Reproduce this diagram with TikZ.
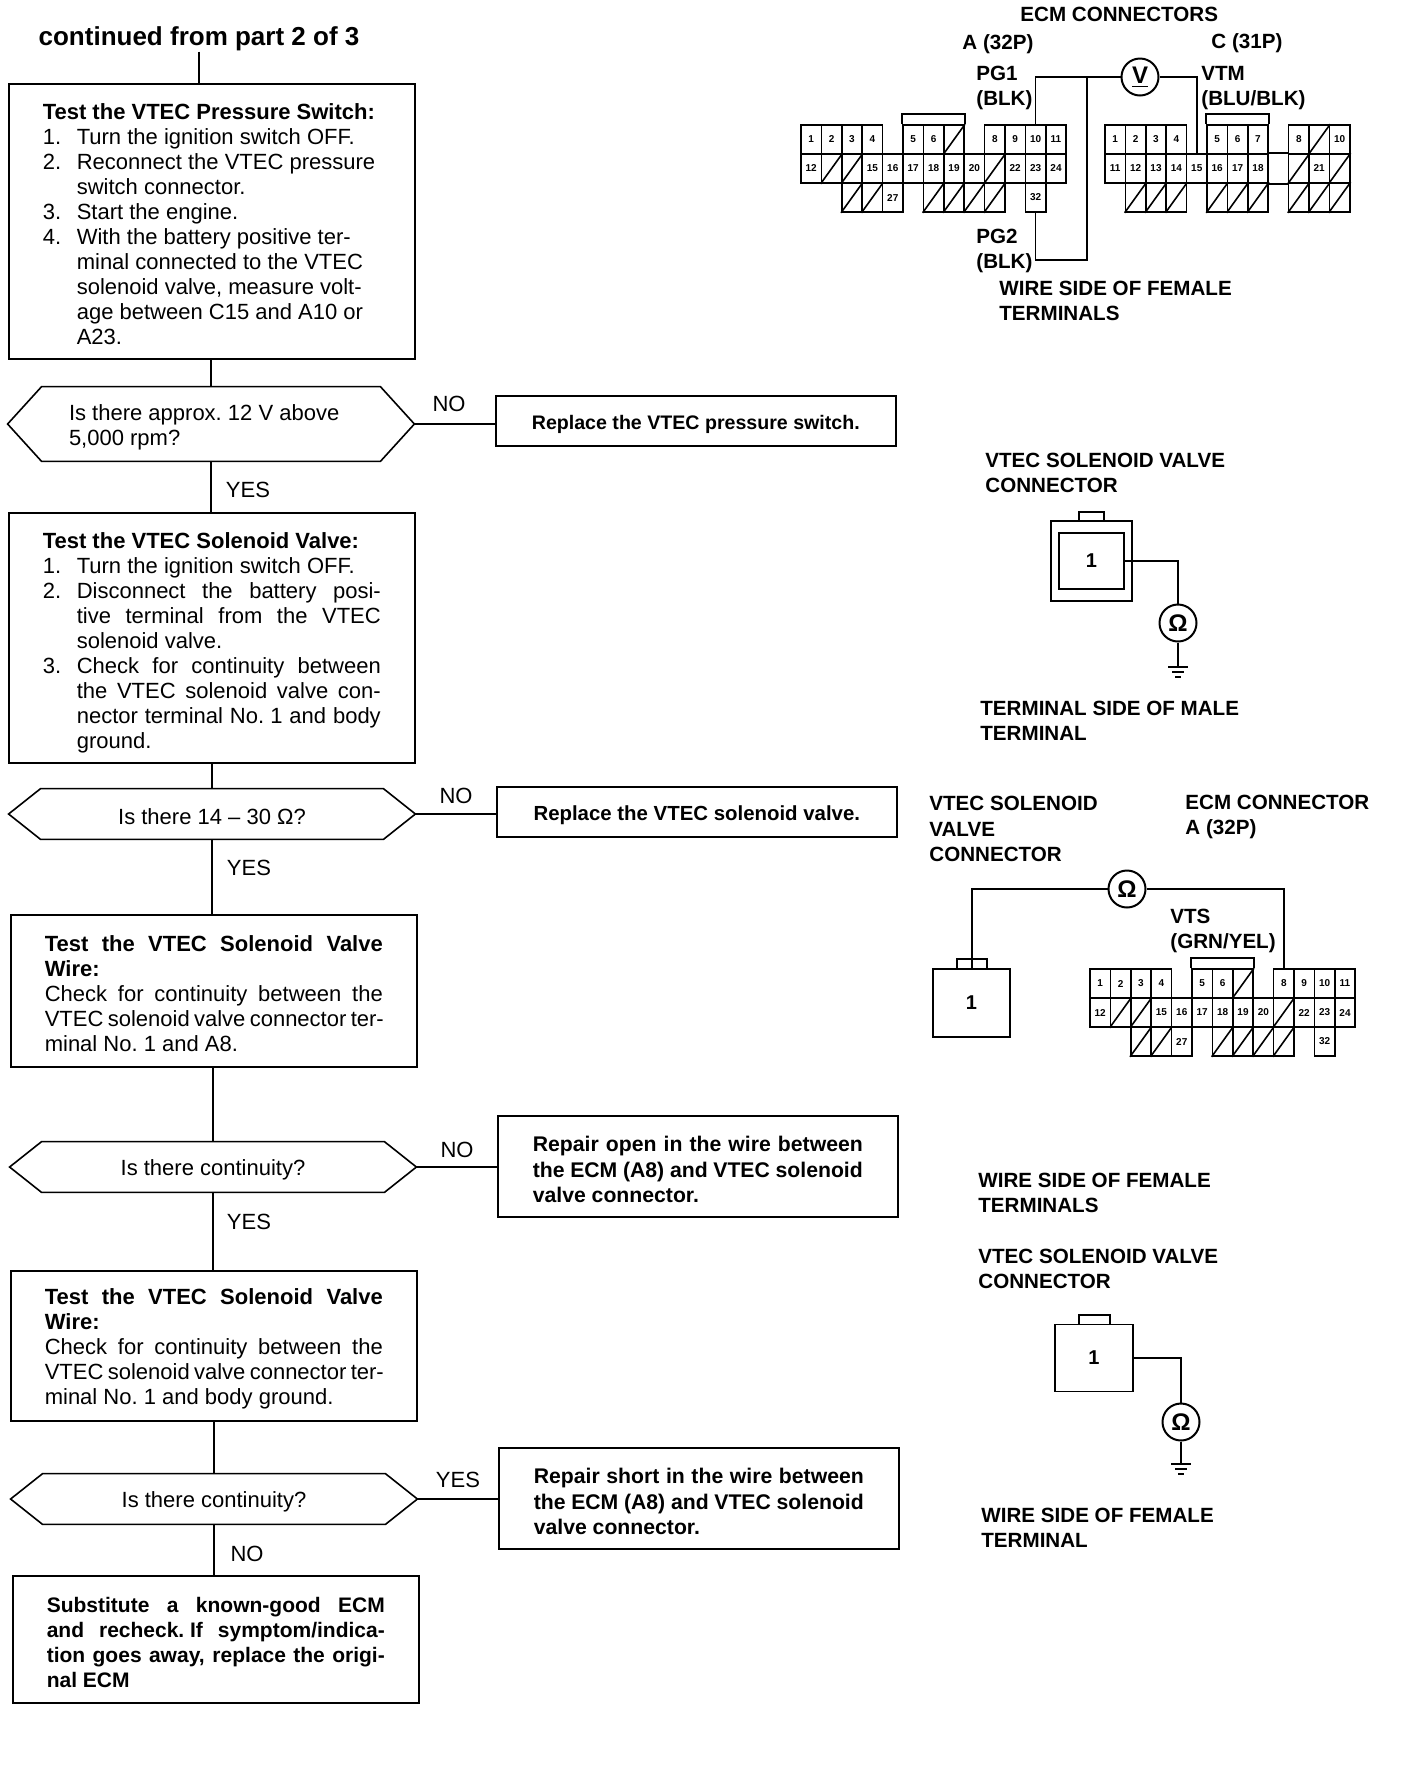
\documentclass[tikz,border=0pt]{standalone}
\usepackage{fontspec}
\setmainfont{Liberation Sans}

\newcommand{\topgap}[1]{\rule{0pt}{#1}}
\newcommand{\plainline}[1]{\makebox[169pt][s]{\spaceskip=.278em plus 1em minus .08em #1}}
\newcommand{\repline}[1]{\makebox[165pt][s]{\spaceskip=.278em plus 1em minus .08em #1}}
\newcommand{\stepitem}[2]{\makebox[17pt][l]{#1}#2}
\newcommand{\fullitem}[2]{\makebox[17pt][l]{#1}\makebox[152pt][s]{\spaceskip=.278em plus 1em minus .08em #2}}
\newcommand{\hexoutline}[2]{%
        \draw[wire] (#1.west) -- ([xshift=#2]#1.north west) -- ([xshift=-#2]#1.north east) -- (#1.east)
                -- ([xshift=-#2]#1.south east) -- ([xshift=#2]#1.south west) -- cycle;}
\newcommand{\pinnum}[5]{%
        \foreach \col/\lab in {#5} {
                \node[pincell] (#1n\lab) at ({#2+(\col+0.5)*20.4}, {#3+(#4+0.5)*29}) {\lab};
        }}
\newcommand{\pinhatch}[5]{%
        \foreach \col in {#5} {
                \node[pincell] (#1r#4c\col) at ({#2+(\col+0.5)*20.4}, {#3+(#4+0.5)*29}) {};
                \draw[pinline] (#1r#4c\col.south west) -- (#1r#4c\col.north east);
        }}
\newcommand{\ecmconnA}[3]{%
        \pinnum{#1}{#2}{#3}{0}{0/1, 1/2, 2/3, 3/4, 5/5, 6/6, 9/8, 10/9, 11/10, 12/11}
        \pinhatch{#1}{#2}{#3}{0}{7}
        \pinnum{#1}{#2}{#3}{1}{0/12, 3/15, 4/16, 5/17, 6/18, 7/19, 8/20, 10/22, 11/23, 12/24}
        \pinhatch{#1}{#2}{#3}{1}{1, 2, 9}
        \pinnum{#1}{#2}{#3}{2}{4/27, 11/32}
        \pinhatch{#1}{#2}{#3}{2}{2, 3, 6, 7, 8, 9}
        \draw[pinline] (#1n5.north west) -- ++(0, -10) -| (#1r0c7.north east);}
\newcommand{\groundsym}[1]{%
        \draw[wire] ([xshift=-5pt]#1) -- ([xshift=5pt]#1);
        \draw[wire] ([xshift=-3pt, yshift=-2.5pt]#1) -- ([xshift=3pt, yshift=-2.5pt]#1);
        \draw[wire] ([xshift=-1.5pt, yshift=-5pt]#1) -- ([xshift=1.5pt, yshift=-5pt]#1);}

\tikzset{
        x=0.5pt, y=-0.5pt,
        every node/.append style={execute at begin node={\spaceskip=.278em\xspaceskip=.278em}},
        wire/.style={line width=0.8pt},
        pinline/.style={line width=0.8pt},
        stepbox/.style={draw, line width=0.8pt, anchor=north west, inner xsep=17pt, inner ysep=0pt,
                text width=169pt, align=left, font=\fontsize{11}{12.5}\selectfont},
        resultbox/.style={draw, line width=0.8pt, anchor=north west, minimum width=200pt, inner ysep=0pt,
                inner xsep=17.5pt, text width=165pt, align=left, font=\fontsize{10.6}{12.8}\selectfont\bfseries},
        decision/.style={minimum width=203pt, minimum height=25pt, inner sep=0pt, text width=180pt,
                align=center, font=\fontsize{11}{12.5}\selectfont},
        answer/.style={inner sep=0pt, font=\fontsize{11}{12.5}\selectfont},
        lbl/.style={anchor=west, inner sep=0pt, align=left, font=\fontsize{10.3}{12.6}\selectfont\bfseries},
        pincell/.style={draw, line width=0.8pt, minimum width=10.2pt, minimum height=14.5pt, inner sep=0pt,
                font=\fontsize{5}{5}\selectfont\bfseries},
        meter/.style={circle, draw, line width=1pt, minimum size=18.5pt, inner sep=0pt,
                font=\fontsize{12}{12}\selectfont\bfseries},
        plug/.style={draw, line width=0.9pt, inner sep=0pt, font=\fontsize{10}{12}\selectfont\bfseries},
}

\begin{document}
\begin{tikzpicture}
        \useasboundingbox (0, 0) rectangle (1408, 1774);

        % flow column
        \node[inner sep=0pt, font=\fontsize{13}{15}\selectfont\bfseries] (title) at (199, 39) {continued from part 2 of 3};
        \node[stepbox, minimum height=137.5pt] (pressure) at (8, 83) {\topgap{10.4pt}{\bf Test the VTEC Pressure Switch:}\\
                \stepitem{1.}{Turn the ignition switch OFF.}\\
                \stepitem{2.}{Reconnect the VTEC pressure}\\
                \stepitem{}{switch connector.}\\
                \stepitem{3.}{Start the engine.}\\
                \stepitem{4.}{With the battery positive ter-}\\
                \stepitem{}{minal connected to the VTEC}\\
                \stepitem{}{solenoid valve, measure volt-}\\
                \stepitem{}{age between C15 and A10 or}\\
                \stepitem{}{A23.}};
        \node[decision, minimum height=37pt, text width=142pt, align=left] (volts) at (211, 424)
                {\topgap{11pt}Is there approx. 12 V above\\5,000 rpm?};
        \hexoutline{volts}{17pt}
        \node[stepbox, minimum height=125pt] (solenoid) at (8, 512) {\topgap{12.5pt}{\bf Test the VTEC Solenoid Valve:}\\
                \stepitem{1.}{Turn the ignition switch OFF.}\\
                \fullitem{2.}{Disconnect the battery posi-}\\
                \fullitem{}{tive terminal from the VTEC}\\
                \stepitem{}{solenoid valve.}\\
                \fullitem{3.}{Check for continuity between}\\
                \fullitem{}{the VTEC solenoid valve con-}\\
                \fullitem{}{nector terminal No. 1 and body}\\
                \stepitem{}{ground.}};
        \node[decision] (ohms) at (212, 814) {\topgap{10.4pt}Is there 14 -- 30 Ω?};
        \hexoutline{ohms}{16pt}
        \node[stepbox, minimum height=76pt] (wireopen) at (10, 914) {\topgap{10.6pt}\plainline{\bf Test the VTEC Solenoid Valve}\\
                {\bf Wire:}\\
                \plainline{Check for continuity between the}\\
                \plainline{VTEC solenoid valve connector ter-}\\
                minal No. 1 and A8.};
        \node[decision] (contone) at (213, 1167) {\topgap{10.4pt}Is there continuity?};
        \hexoutline{contone}{16pt}
        \node[stepbox, minimum height=75pt] (wireshort) at (10, 1270) {\topgap{11pt}\plainline{\bf Test the VTEC Solenoid Valve}\\
                {\bf Wire:}\\
                \plainline{Check for continuity between the}\\
                \plainline{VTEC solenoid valve connector ter-}\\
                minal No. 1 and body ground.};
        \node[decision] (conttwo) at (214, 1499) {\topgap{10.4pt}Is there continuity?};
        \hexoutline{conttwo}{16pt}
        \node[stepbox, minimum height=63.5pt, font=\fontsize{10.5}{12.5}\selectfont\bfseries] (substitute) at (12, 1575) {\topgap{10.4pt}\plainline{Substitute a known-good ECM}\\
                \plainline{and recheck. If symptom/indica-}\\
                \plainline{tion goes away, replace the origi-}\\
                nal ECM};

        % result boxes
        \node[resultbox, minimum height=25pt, text width=200pt, inner xsep=0pt, align=center, font=\fontsize{9.8}{12}\selectfont\bfseries] (repswitch) at (495, 395) {\topgap{11pt}Replace the VTEC pressure switch.};
        \node[resultbox, minimum height=25pt, text width=200pt, inner xsep=0pt, align=center, font=\fontsize{10.2}{12}\selectfont\bfseries] (repvalve) at (496, 786) {\topgap{11pt}Replace the VTEC solenoid valve.};
        \node[resultbox, minimum height=50.5pt] (repopen) at (497, 1115) {\topgap{11pt}\repline{Repair open in the wire between}\\
                \repline{the ECM (A8) and VTEC solenoid}\\valve connector.};
        \node[resultbox, minimum height=50.5pt] (repshort) at (498, 1447) {\topgap{11pt}\repline{Repair short in the wire between}\\
                \repline{the ECM (A8) and VTEC solenoid}\\valve connector.};

        % flow connectors
        \draw[wire] (title.south) -- (title.south |- pressure.north);
        \draw[wire] (volts.north |- pressure.south) -- (volts.north);
        \draw[wire] (volts.south) -- (volts.south |- solenoid.north);
        \draw[wire] (ohms.north |- solenoid.south) -- (ohms.north);
        \draw[wire] (ohms.south) -- (ohms.south |- wireopen.north);
        \draw[wire] (contone.north |- wireopen.south) -- (contone.north);
        \draw[wire] (contone.south) -- (contone.south |- wireshort.north);
        \draw[wire] (conttwo.north |- wireshort.south) -- (conttwo.north);
        \draw[wire] (conttwo.south) -- (conttwo.south |- substitute.north);
        \draw[wire] (volts.east) -- (volts.east -| repswitch.west);
        \draw[wire] (ohms.east) -- (ohms.east -| repvalve.west);
        \draw[wire] (contone.east) -- (contone.east -| repopen.west);
        \draw[wire] (conttwo.east) -- (conttwo.east -| repshort.west);
        \node[answer] (no1) at (449, 404) {NO};
        \node[answer] (yes1) at (248, 490) {YES};
        \node[answer] (no2) at (456, 796) {NO};
        \node[answer] (yes2) at (249, 868) {YES};
        \node[answer] (no3) at (457, 1150) {NO};
        \node[answer] (yes3) at (249, 1222) {YES};
        \node[answer] (yes4) at (458, 1480) {YES};
        \node[answer] (no4) at (247, 1554) {NO};

        % ECM connectors, voltage check
        \node[lbl] (ecmhead) at (1020, 14) {ECM CONNECTORS};
        \node[lbl] (ahead) at (962, 44) {A (32P)};
        \node[lbl] (chead) at (1211, 43) {C (31P)};
        \node[lbl] (pgone) at (976, 88) {PG1\\(BLK)};
        \node[lbl] (vtm) at (1201, 88) {VTM\\(BLU/BLK)};
        \node[lbl] (pgtwo) at (976, 251) {PG2\\(BLK)};
        \node[lbl] (wireside) at (999, 301) {WIRE SIDE OF FEMALE\\TERMINALS};
        \ecmconnA{a}{801}{125}
        \pinnum{c}{1105}{125}{0}{0/1, 1/2, 2/3, 3/4, 5/5, 6/6, 7/7, 9/8, 11/10}
        \pinhatch{c}{1105}{125}{0}{10}
        \pinnum{c}{1105}{125}{1}{0/11, 1/12, 2/13, 3/14, 4/15, 5/16, 6/17, 7/18, 10/21}
        \pinhatch{c}{1105}{125}{1}{9, 11}
        \pinhatch{c}{1105}{125}{2}{1, 2, 3, 5, 6, 7, 9, 10, 11}
        \draw[pinline] (cn5.north west) -- ++(0, -10) -| (cn7.north east);
        \draw[pinline] (cn18.north east) -- (cr1c9.north west);
        \draw[pinline] (cn18.south east) -- (cr1c9.south west);
        \node[meter] (vm) at (1140, 77) {\underline{V}};
        \coordinate (pgcorner) at (1087, 260);
        \coordinate (pgtie) at (vm.west -| pgcorner);
        \draw[wire] (an10.north) |- (vm.west);
        \draw[wire] (an32.south) |- (pgcorner) -- (pgtie);
        \draw[wire] (vm.east) -| (cn15.north);

        % solenoid valve connector, terminal side
        \node[lbl] (solhead) at (985, 473) {VTEC SOLENOID VALVE\\CONNECTOR};
        \node[plug, minimum width=40.5pt, minimum height=40pt, line width=1.1pt] (solbody) at (1091.5, 561) {};
        \node[plug, minimum width=32.5pt, minimum height=28pt, line width=1.2pt] (solpin) at (1091.5, 561) {1};
        \draw[pinline] (1079, 521) -- (1079, 512) -- (1104, 512) -- (1104, 521);
        \node[meter] (ohmone) at (1178, 623) {Ω};
        \coordinate (gndone) at (1178, 667);
        \draw[wire] (solpin.east) -| (ohmone.north);
        \draw[wire] (ohmone.south) -- (gndone);
        \groundsym{gndone}
        \node[lbl] (malehead) at (980, 721) {TERMINAL SIDE OF MALE\\TERMINAL};

        % solenoid valve to ECM, continuity check
        \node[lbl] (valvehead) at (929, 829) {VTEC SOLENOID\\VALVE\\CONNECTOR};
        \node[lbl] (ecmahead) at (1185, 817) {ECM CONNECTOR\\A (32P)};
        \node[lbl] (vts) at (1170, 931) {VTS\\(GRN/YEL)};
        \node[plug, minimum width=38.5pt, minimum height=34pt] (valveplug) at (971.5, 1003) {1};
        \draw[pinline] (957, 969) -- (957, 959) -- (987, 959) -- (987, 969);
        \ecmconnA{e}{1090}{969}
        \node[meter] (ohmtwo) at (1127, 889) {Ω};
        \coordinate (valvepin) at (972, 969);
        \draw[wire] (ohmtwo.west) -| (valvepin);
        \draw[wire] (ohmtwo.east) -| (en8.north);

        % solenoid valve connector, wire side
        \node[lbl] (femhead) at (978, 1193) {WIRE SIDE OF FEMALE\\TERMINALS};
        \node[lbl] (solheadtwo) at (978, 1269) {VTEC SOLENOID VALVE\\CONNECTOR};
        \node[plug, minimum width=39pt, minimum height=33.5pt] (solplug) at (1094, 1358) {1};
        \draw[pinline] (1079, 1324) -- (1079, 1315) -- (1110, 1315) -- (1110, 1324);
        \node[meter] (ohmthree) at (1181, 1422) {Ω};
        \coordinate (gndtwo) at (1181, 1464);
        \draw[wire] (solplug.east) -| (ohmthree.north);
        \draw[wire] (ohmthree.south) -- (gndtwo);
        \groundsym{gndtwo}
        \node[lbl] (femheadtwo) at (981, 1528) {WIRE SIDE OF FEMALE\\TERMINAL};
\end{tikzpicture}
\end{document}
